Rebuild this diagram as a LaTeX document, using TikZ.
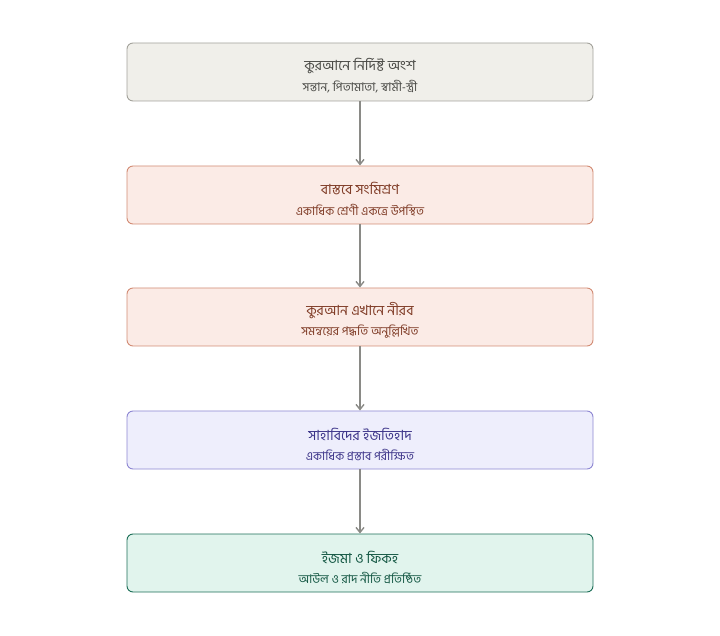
\documentclass[tikz,border=0pt]{standalone}
\usepackage{fontspec}
\newfontfamily\bn[Script=Bengali]{Hind Siliguri}
\usetikzlibrary{arrows.meta}
\definecolor{grayfill}{HTML}{F0EFEA}
\definecolor{graydraw}{HTML}{A3A29B}
\definecolor{graytext}{HTML}{4A4A46}
\definecolor{peachfill}{HTML}{FBEBE6}
\definecolor{peachdraw}{HTML}{D28B74}
\definecolor{peachtext}{HTML}{7F3B26}
\definecolor{lavfill}{HTML}{EEEEFC}
\definecolor{lavdraw}{HTML}{8D86D2}
\definecolor{lavtext}{HTML}{3C3489}
\definecolor{mintfill}{HTML}{E1F4ED}
\definecolor{mintdraw}{HTML}{1B6E57}
\definecolor{minttext}{HTML}{125642}
\definecolor{arrowgray}{HTML}{8A8A86}
\tikzset{
  x=1pt,y=1pt,
  box/.style={draw, rounded corners=6pt, line width=0.9pt, minimum width=466pt, minimum height=58pt, inner sep=0pt},
  graybox/.style={box, fill=grayfill, draw=graydraw},
  peachbox/.style={box, fill=peachfill, draw=peachdraw},
  lavbox/.style={box, fill=lavfill, draw=lavdraw},
  mintbox/.style={box, fill=mintfill, draw=mintdraw},
  ttl/.style={font=\bn\fontsize{14}{16}\selectfont, inner sep=0pt},
  sub/.style={font=\bn\fontsize{12}{14}\selectfont, inner sep=0pt},
  conn/.style={draw=arrowgray, line width=1.4pt, -{Straight Barb[length=5pt,width=8pt]}}
}
\begin{document}
\begin{tikzpicture}
\useasboundingbox (0,0) rectangle (720,635);
\node[graybox] (b1) at (360,563) {};
\node[ttl, text=graytext] (t1) at (360,569) {কুরআনে নির্দিষ্ট অংশ};
\node[sub, text=graytext] (s1) at (360,548) {সন্তান, পিতামাতা, স্বামী-স্ত্রী};

\node[peachbox] (b2) at (360,440) {};
\node[ttl, text=peachtext] (t2) at (360,446) {বাস্তবে সংমিশ্রণ};
\node[sub, text=peachtext] (s2) at (360,425) {একাধিক শ্রেণী একত্রে উপস্থিত};

\node[peachbox] (b3) at (360,318) {};
\node[ttl, text=peachtext] (t3) at (360,324) {কুরআন এখানে নীরব};
\node[sub, text=peachtext] (s3) at (360,303) {সমন্বয়ের পদ্ধতি অনুল্লিখিত};

\node[lavbox] (b4) at (360,195) {};
\node[ttl, text=lavtext] (t4) at (360,201) {সাহাবিদের ইজতিহাদ};
\node[sub, text=lavtext] (s4) at (360,180) {একাধিক প্রস্তাব পরীক্ষিত};

\node[mintbox] (b5) at (360,72) {};
\node[ttl, text=minttext] (t5) at (360,78) {ইজমা ও ফিকহ};
\node[sub, text=minttext] (s5) at (360,57) {আউল ও রাদ নীতি প্রতিষ্ঠিত};

\draw[conn] (b1.south) -- (b2.north);
\draw[conn] (b2.south) -- (b3.north);
\draw[conn] (b3.south) -- (b4.north);
\draw[conn] (b4.south) -- (b5.north);
\end{tikzpicture}
\end{document}
